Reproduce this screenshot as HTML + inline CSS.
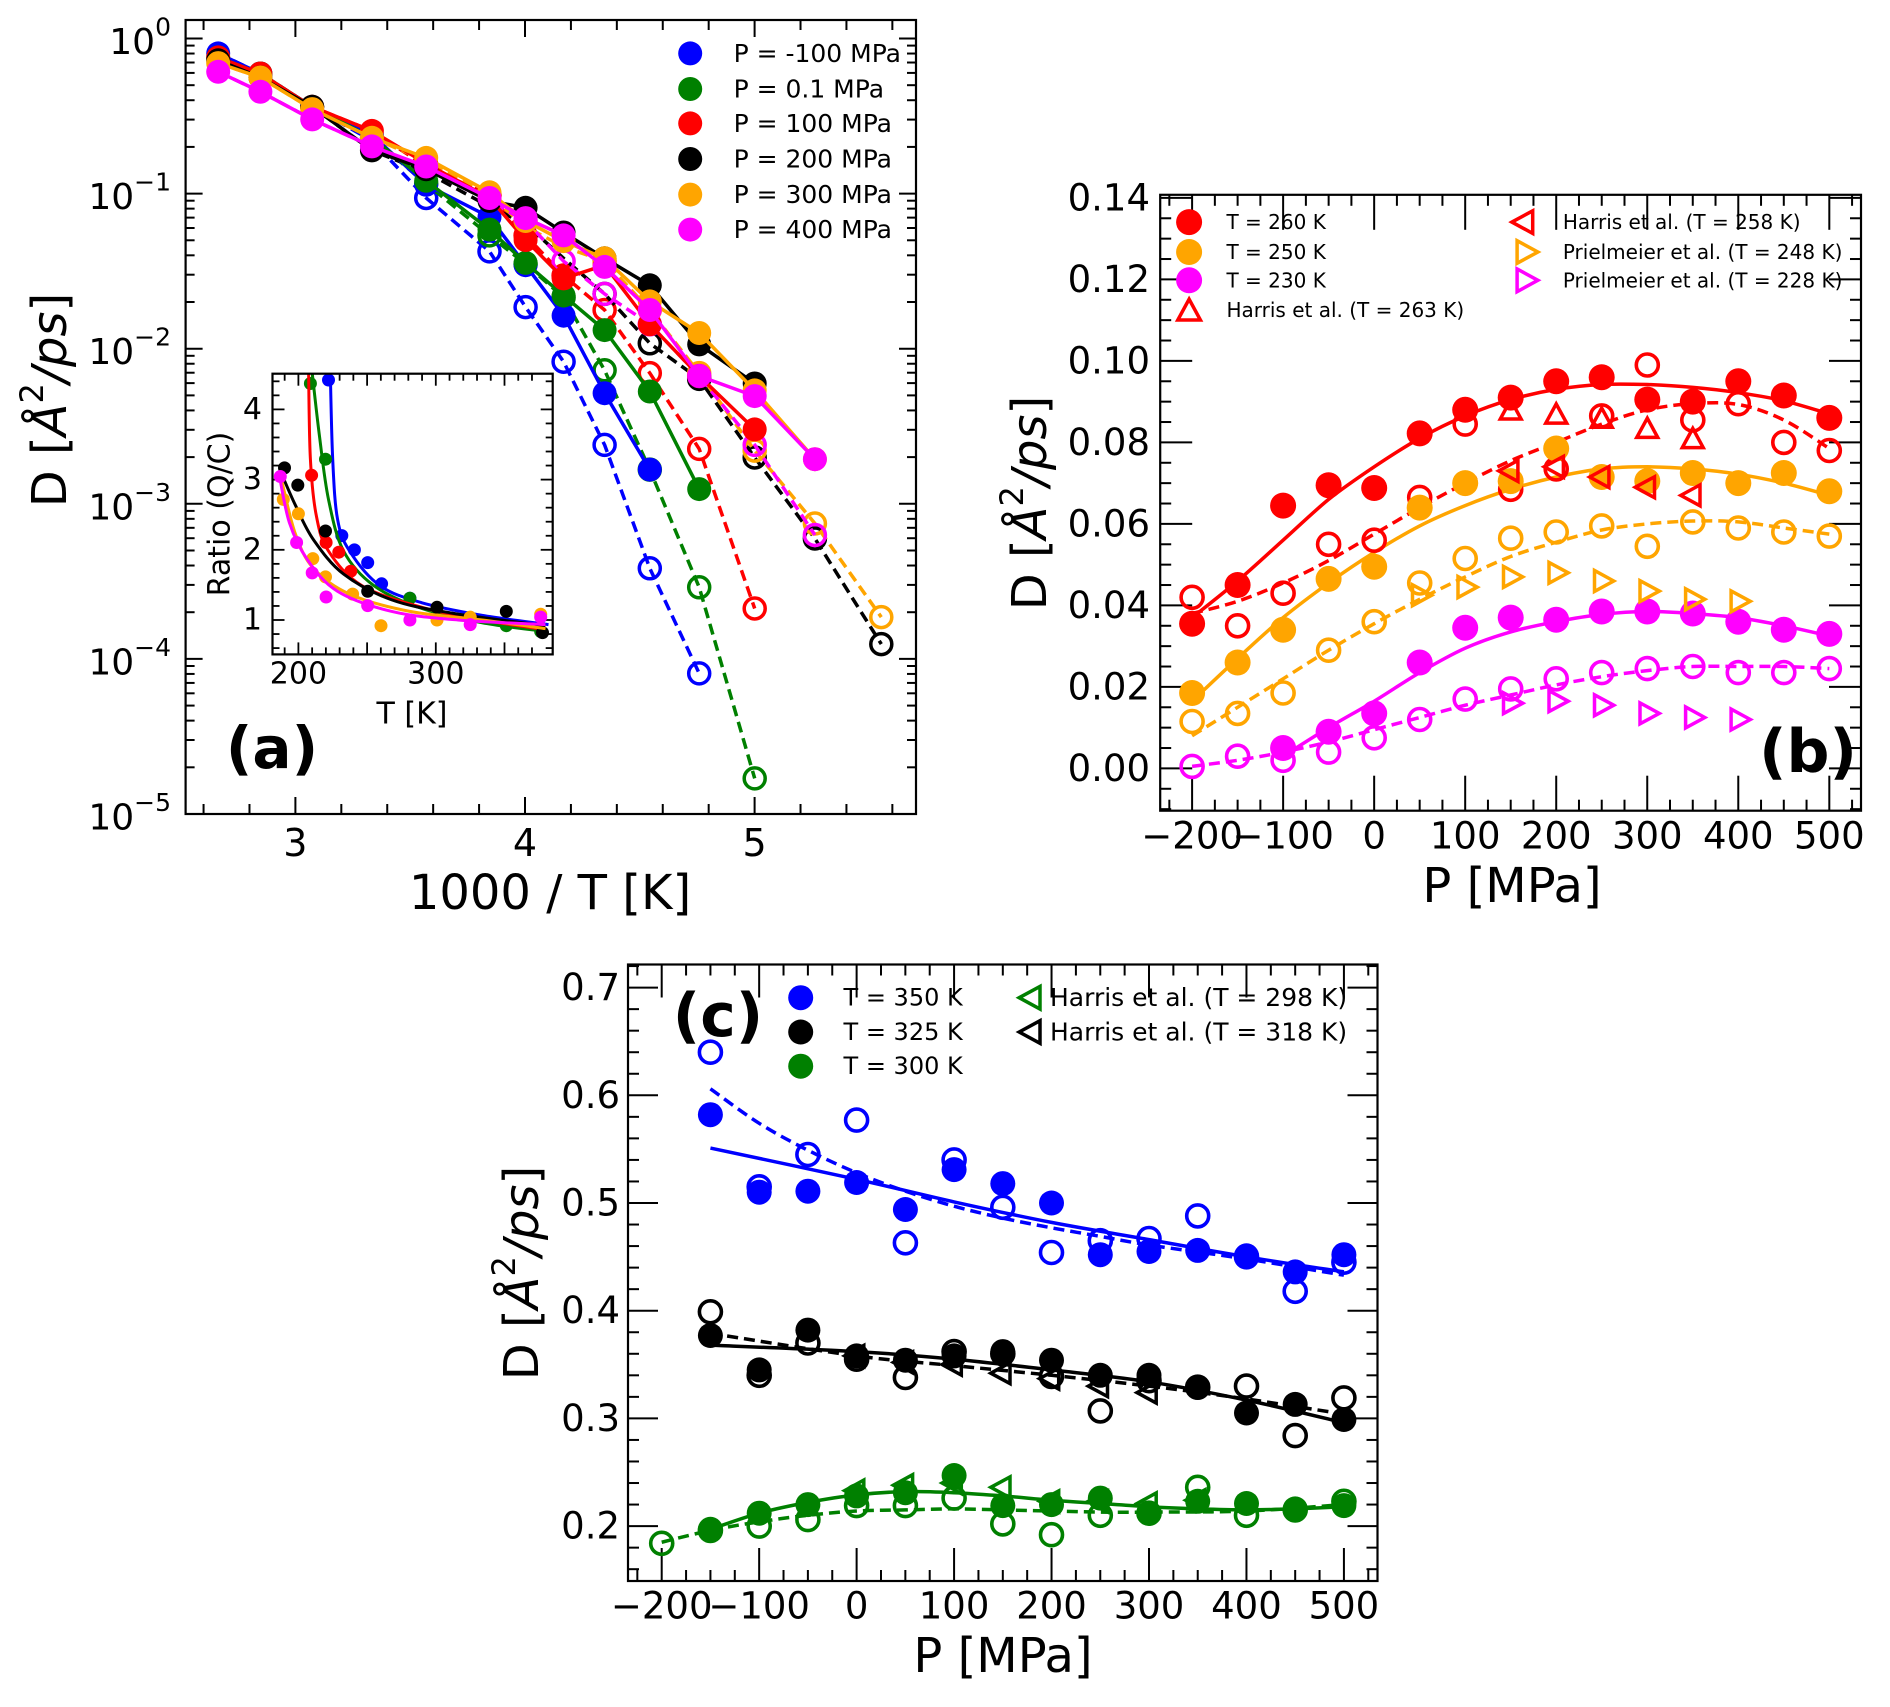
<!DOCTYPE html>
<html><head><meta charset="utf-8">
<style>
html,body{margin:0;padding:0;background:#fff;}
svg{display:block;font-family:"DejaVu Sans","Liberation Sans",sans-serif;}
</style></head>
<body>
<svg id="s" xmlns="http://www.w3.org/2000/svg" width="1890" height="1707" viewBox="0 0 1890 1707"></svg>
<script>
const S=document.getElementById('s');
let out='';
function add(t){out+=t;}
function line(x1,y1,x2,y2,c,w,d){add(`<line x1="${x1}" y1="${y1}" x2="${x2}" y2="${y2}" stroke="${c||'#000'}" stroke-width="${w||2}"${d?` stroke-dasharray="${d}"`:''}/>`);}
function poly(pts,c,w,d){add(`<polyline points="${pts.map(p=>p[0].toFixed(1)+','+p[1].toFixed(1)).join(' ')}" fill="none" stroke="${c}" stroke-width="${w}"${d?` stroke-dasharray="${d}"`:''} stroke-linejoin="round"/>`);}
function path(pts,c,w,d){
  let s=`M${pts[0][0]},${pts[0][1]}`;
  for(let i=0;i<pts.length-1;i++){const p0=pts[Math.max(i-1,0)],p1=pts[i],p2=pts[i+1],p3=pts[Math.min(i+2,pts.length-1)];
    const c1=[p1[0]+(p2[0]-p0[0])/6,p1[1]+(p2[1]-p0[1])/6],c2=[p2[0]-(p3[0]-p1[0])/6,p2[1]-(p3[1]-p1[1])/6];
    s+=` C${c1[0].toFixed(1)},${c1[1].toFixed(1)} ${c2[0].toFixed(1)},${c2[1].toFixed(1)} ${p2[0].toFixed(1)},${p2[1].toFixed(1)}`;}
  add(`<path d="${s}" fill="none" stroke="${c}" stroke-width="${w}"${d?` stroke-dasharray="${d}"`:''}/>`);}
function dot(x,y,r,c){add(`<circle cx="${x.toFixed(1)}" cy="${y.toFixed(1)}" r="${r}" fill="${c}"/>`);}
function ring(x,y,r,c,w){add(`<circle cx="${x.toFixed(1)}" cy="${y.toFixed(1)}" r="${r}" fill="none" stroke="${c}" stroke-width="${w||3.5}"/>`);}
function tri(x,y,r,c,dir){let p;
  if(dir=='u')p=[[x,y-r],[x-r*0.87,y+r*0.6],[x+r*0.87,y+r*0.6]];
  else if(dir=='l')p=[[x-r,y],[x+r*0.6,y-r*0.87],[x+r*0.6,y+r*0.87]];
  else p=[[x+r,y],[x-r*0.6,y-r*0.87],[x-r*0.6,y+r*0.87]];
  add(`<polygon points="${p.map(q=>q[0].toFixed(1)+','+q[1].toFixed(1)).join(' ')}" fill="none" stroke="${c}" stroke-width="3.5"/>`);}
function text(x,y,t,sz,anchor,extra){add(`<text x="${x}" y="${y}" font-size="${sz}" text-anchor="${anchor||'start'}" dominant-baseline="central" ${extra||''}>${t}</text>`);}
function frame(l,t,r,b){add(`<rect x="${l}" y="${t}" width="${r-l}" height="${b-t}" fill="none" stroke="#000" stroke-width="2.2"/>`);}
const dash='11,6';
const LW=3.5;
function ylab(x,y){add(`<text transform="translate(${x},${y}) rotate(-90)" font-size="48" text-anchor="middle" dominant-baseline="central">D [<tspan font-style="italic">Å</tspan><tspan dy="-18" font-size="32">2</tspan><tspan dy="18" font-style="italic">/ps</tspan>]</text>`);}

/* ========== PANEL A ========== */
{
const L=185.6,R=916,T=20,B=814;
const xv=v=>295.4+229.6*(v-3), yl=l=>38.5-155.1*l;
const zx=z=>z/1.659, zy=z=>z/1.742;
for(let v=2.6;v<=5.61;v+=0.2){const x=xv(v);const maj=Math.abs(v-Math.round(v))<0.01;const len=maj?17:10;line(x,B,x,B-len);line(x,T,x,T+len);}
for(let d=-5;d<=0;d++){for(let m=1;m<10;m++){const l=d+Math.log10(m);const y=yl(l);if(y<T||y>B)continue;const len=m==1?17:9;line(L,y,L+len,y);line(R,y,R-len,y);}}
frame(L,T,R,B);
[3,4,5].forEach(v=>text(xv(v),843,v,38,'middle'));
for(let d=0;d>=-5;d--){const y=yl(d);add(`<text x="171" y="${y+4}" font-size="36" text-anchor="end" dominant-baseline="central">10<tspan dy="-16" font-size="25">${d==0?'0':'−'+(-d)}</tspan></text>`);}
text(550,893,'1000 / T [K]',48,'middle');
ylab(50,400);
const S_=[
['#0000ff',[[362,93],[432,128],[518,186],[617,235],[707,322],[812,378],[872,462],[935,550],[1003,685],[1078,818]],
 [[362,93],[432,128],[518,186],[617,245],[707,345],[812,438],[872,535],[935,630],[1003,775],[1078,990],[1160,1173]],[707,812,872,935,1003,1078,1160]],
['#008000',[[362,100],[432,128],[518,186],[617,240],[707,315],[812,400],[872,458],[935,515],[1003,575],[1078,682],[1160,852]],
 [[362,100],[432,128],[518,186],[617,240],[707,320],[812,410],[872,460],[935,518],[1003,645],[1078,818],[1160,1023],[1252,1356]],[707,812,872,935,1003,1078,1160,1252]],
['#ff0000',[[362,100],[432,128],[518,186],[617,228],[707,285],[812,345],[872,418],[935,485],[1003,462],[1078,565],[1160,655],[1252,748]],
 [[362,100],[432,128],[518,186],[617,228],[707,290],[812,340],[872,410],[935,480],[1003,540],[1078,650],[1160,782],[1252,1060]],[812,872,935,1003,1078,1160,1252]],
['#000000',[[362,105],[432,135],[518,186],[617,262],[707,295],[812,350],[872,362],[935,405],[1003,450],[1078,497],[1160,600],[1252,668]],
 [[362,105],[432,135],[518,186],[617,262],[707,300],[812,360],[872,390],[935,450],[1003,512],[1078,598],[1160,660],[1252,797],[1352,938],[1462,1122]],[1003,1078,1160,1252,1352,1462]],
['#ffa500',[[362,110],[432,135],[518,190],[617,240],[707,275],[812,335],[872,385],[935,420],[1003,450],[1078,525],[1160,580],[1252,680],[1352,800]],
 [[362,110],[432,135],[518,190],[617,240],[707,280],[812,340],[872,395],[935,430],[1003,455],[1078,540],[1160,650],[1252,785],[1352,912],[1462,1075]],[1003,1078,1160,1252,1352,1462]],
['#ff00ff',[[362,125],[432,160],[518,208],[617,255],[707,290],[812,345],[872,380],[935,410],[1003,465],[1078,540],[1160,655],[1252,690],[1352,800]],
 [[362,125],[432,160],[518,208],[617,255],[707,295],[812,350],[872,385],[935,455],[1003,512],[1078,565],[1160,655],[1252,775],[1352,932]],[872,935,1003,1078,1160,1252,1352]]
];
S_.forEach(([c,f,o,oi])=>{poly(o.map(p=>[zx(p[0]),zy(p[1])]),c,LW,dash);
  o.forEach(p=>{if(oi.includes(p[0]))ring(zx(p[0]),zy(p[1]),10.5,c,3.5);});});
S_.forEach(([c,f])=>{poly(f.map(p=>[zx(p[0]),zy(p[1])]),c,LW);f.forEach(p=>dot(zx(p[0]),zy(p[1]),12,c));});
const lg=[['#0000ff','P = -100 MPa'],['#008000','P = 0.1 MPa'],['#ff0000','P = 100 MPa'],['#000000','P = 200 MPa'],['#ffa500','P = 300 MPa'],['#ff00ff','P = 400 MPa']];
lg.forEach((g,i)=>{const y=zy([93,155,215,277,339,400][i]);dot(zx(1145),y,12,g[0]);text(zx(1217),y,g[1],25,'start');});
const iL=272.5,iR=552.7,iT=373.7,iB=654.4;
add(`<rect x="${iL}" y="${iT}" width="${iR-iL}" height="${iB-iT}" fill="#fff" stroke="none"/>`);
const ix=t=>298.4+1.374*(t-200), iy=v=>620-70.2*(v-1);
for(let t=190;t<=370;t+=10){const x=ix(t);const len=(t%50==0)?12:7;line(x,iB,x,iB-len,'#000',1.8);line(x,iT,x,iT+len,'#000',1.8);}
for(let v=0.6;v<=4.6;v+=0.2){const y=iy(v);if(y<iT||y>iB)continue;const len=Math.abs(v-Math.round(v))<0.01?12:7;line(iL,y,iL+len,y,'#000',1.8);line(iR,y,iR-len,y,'#000',1.8);}
[200,300].forEach(t=>text(ix(t),674,t,30,'middle'));
[1,2,3,4].forEach(v=>text(262,iy(v),v,30,'end'));
text(412,714,'T [K]',30,'middle');
add(`<text transform="translate(220,514) rotate(-90)" font-size="30" text-anchor="middle" dominant-baseline="central">Ratio (Q/C)</text>`);
const I=[
['#0000ff',[[548,650],[552,800],[560,905],[580,960],[630,1020],[700,1050],[800,1072],[910,1088]],[[545,662],[567,933],[588,958],[610,980],[633,1017],[680,1042]]],
['#008000',[[518,650],[530,760],[545,870],[570,960],[620,1020],[700,1060],[800,1085],[905,1100]],[[515,668],[540,800],[680,1042],[840,1090],[897,1100]]],
['#ff0000',[[512,650],[515,800],[525,900],[545,960],[600,1020],[700,1058],[800,1080],[905,1097]],[[517,828],[541,945],[562,962],[582,995]]],
['#000000',[[465,820],[490,880],[520,940],[570,1000],[650,1045],[750,1068],[905,1090]],[[472,815],[494,845],[540,925],[610,1030],[725,1058],[840,1065],[900,1102]]],
['#ffa500',[[468,840],[490,930],[520,990],[580,1035],[680,1065],[800,1080],[905,1095]],[[470,870],[495,895],[519,973],[540,1005],[585,1035],[632,1090],[725,1080],[780,1075],[897,1070]]],
['#ff00ff',[[462,820],[480,910],[510,975],[560,1030],[650,1065],[760,1080],[905,1088]],[[465,830],[492,945],[518,998],[541,1040],[610,1055],[680,1080],[780,1088],[897,1075]]]
];
add(`<svg x="${iL}" y="${iT}" width="${iR-iL}" height="${iB-iT}" viewBox="${iL} ${iT} ${iR-iL} ${iB-iT}" overflow="hidden">`);
I.forEach(([c,cv,d])=>{d.forEach(p=>dot(zx(p[0]),zy(p[1]),6.5,c));path(cv.map(p=>[zx(p[0]),zy(p[1])]),c,3);});
add('</svg>');
frame(iL,iT,iR,iB);
text(272,748,'(a)',58,'middle','font-weight="bold"');
}

/* ========== PANEL B ========== */
{
const L=1160.2,R=1861,T=194.8,B=810.7;
const xp=p=>1192.1+0.9103*(p+200), yv=v=>768.4-4075*v;
for(let p=-225;p<=525;p+=25){const x=xp(p);if(x<L||x>R)continue;const len=(p%100==0)?35:11;line(x,B,x,B-len);line(x,T,x,T+len);}
for(let i=-2;i<=28;i++){const v=i*0.005;const y=yv(v);if(y<T-1||y>B)continue;const len=(i%4==0)?32:11;line(L,y,L+len,y);line(R,y,R-len,y);}
frame(L,T,R,B);
[-200,-100,0,100,200,300,400,500].forEach(p=>text(xp(p),836,p<0?'−'+(-p):p,37,'middle'));
[0,0.02,0.04,0.06,0.08,0.10,0.12,0.14].forEach(v=>text(1150,yv(v),v.toFixed(2),37,'end'));
text(1512,886,'P [MPa]',48,'middle');
ylab(1030,503);
const P=[-200,-150,-100,-50,0,50,100,150,200,250,300,350,400,450,500];
const mk=a=>a.map((v,i)=>[P[i],v]);
const series=[
['#ff0000',mk([0.0355,0.045,0.0645,0.0695,0.0688,0.0822,0.088,0.091,0.095,0.096,0.0905,0.090,0.095,0.0915,0.086]),
 mk([0.037,0.046,0.056,0.066,0.074,0.081,0.0865,0.0905,0.093,0.0942,0.0942,0.0935,0.0922,0.0902,0.087]),
 mk([0.042,0.035,0.043,0.055,0.056,0.0665,0.0845,0.0685,0.0735,0.0865,0.099,0.0855,0.0895,0.080,0.078]),
 mk([0.038,0.041,0.0455,0.051,0.0575,0.064,0.070,0.0755,0.080,0.0845,0.088,0.0895,0.0893,0.0855,0.0785])],
['#ffa500',mk([0.0185,0.026,0.034,0.0465,0.0495,0.064,0.070,0.0705,0.0785,0.0715,0.0705,0.0725,0.070,0.0725,0.068]),
 mk([0.0165,0.027,0.037,0.0455,0.053,0.0595,0.0645,0.0685,0.0715,0.0735,0.074,0.0735,0.0722,0.070,0.067]),
 mk([0.0115,0.0135,0.0185,0.029,0.036,0.0455,0.0515,0.0565,0.058,0.0595,0.0545,0.0605,0.059,0.058,0.057]),
 mk([0.008,0.015,0.022,0.029,0.0355,0.0415,0.047,0.052,0.0555,0.0585,0.060,0.0607,0.0605,0.059,0.0575])],
['#ff00ff',mk([null,null,0.005,0.009,0.0135,0.026,0.0345,0.037,0.0365,0.0385,0.0385,0.038,0.036,0.034,0.033]).filter(p=>p[1]!==null),
 mk([null,null,0.003,0.01,0.0165,0.0235,0.0295,0.0335,0.036,0.0378,0.0385,0.038,0.037,0.035,0.0325]).filter(p=>p[1]!==null),
 mk([0.0005,0.003,0.002,0.004,0.0075,0.012,0.017,0.0195,0.022,0.0235,0.0245,0.025,0.0235,0.0235,0.0245]),
 mk([0.0005,0.002,0.004,0.0065,0.0095,0.0125,0.0155,0.018,0.0205,0.0225,0.024,0.025,0.025,0.025,0.0245])]
];
const tr=a=>a.map(p=>[xp(p[0]),yv(p[1])]);
series.forEach(([c,f,fc,o,oc])=>{path(tr(oc),c,LW,dash);path(tr(fc),c,LW);});
series.forEach(([c,f,fc,o,oc])=>{o.forEach(p=>ring(xp(p[0]),yv(p[1]),11,c,3.6));f.forEach(p=>dot(xp(p[0]),yv(p[1]),13,c));});
[[150,0.0875],[200,0.0865],[250,0.0855],[300,0.083],[350,0.0805]].forEach(p=>tri(xp(p[0]),yv(p[1]),12,'#ff0000','u'));
[[150,0.073],[200,0.074],[250,0.0715],[300,0.069],[350,0.067]].forEach(p=>tri(xp(p[0]),yv(p[1]),12,'#ff0000','l'));
[[50,0.0425],[100,0.0445],[150,0.047],[200,0.048],[250,0.046],[300,0.0435],[350,0.0415],[400,0.041]].forEach(p=>tri(xp(p[0]),yv(p[1]),12,'#ffa500','r'));
[[150,0.016],[200,0.0165],[250,0.0155],[300,0.0135],[350,0.0125],[400,0.012]].forEach(p=>tri(xp(p[0]),yv(p[1]),12,'#ff00ff','r'));
const bx=z=>945+z/1.659, by=z=>150+z/2.01;
[['#ff0000','T = 260 K'],['#ffa500','T = 250 K'],['#ff00ff','T = 230 K']].forEach((g,i)=>{const y=by([145,205,262][i]);dot(bx(405),y,13,g[0]);text(bx(467),y,g[1],20);});
tri(bx(405),by(322)+2,13,'#ff0000','u');text(bx(467),by(322),'Harris et al. (T = 263 K)',20);
tri(bx(962),by(145),13,'#ff0000','l');text(bx(1025),by(145),'Harris et al. (T = 258 K)',20);
tri(bx(962),by(205),13,'#ffa500','r');text(bx(1025),by(205),'Prielmeier et al. (T = 248 K)',20);
tri(bx(962),by(262),13,'#ff00ff','r');text(bx(1025),by(262),'Prielmeier et al. (T = 228 K)',20);
text(1808,752,'(b)',60,'middle','font-weight="bold"');
}

/* ========== PANEL C ========== */
{
const L=628,R=1377.5,T=964.5,B=1581;
const xp=p=>661.7+0.9746*(p+200), yv=v=>1526.1-1077*(v-0.2);
for(let p=-225;p<=525;p+=25){const x=xp(p);if(x<L||x>R)continue;const len=(p%100==0)?33:11;line(x,B,x,B-len);line(x,T,x,T+len);}
for(let i=7;i<=36;i++){const v=i*0.02;const y=yv(v);if(y<T||y>B)continue;const len=(i%5==0)?30:11;line(L,y,L+len,y);line(R,y,R-len,y);}
frame(L,T,R,B);
[-200,-100,0,100,200,300,400,500].forEach(p=>text(xp(p),1606,p<0?'−'+(-p):p,37,'middle'));
[0.2,0.3,0.4,0.5,0.6,0.7].forEach(v=>text(620,yv(v),v.toFixed(1),37,'end'));
text(1003,1656,'P [MPa]',48,'middle');
ylab(522,1273);
const P=[-150,-100,-50,0,50,100,150,200,250,300,350,400,450,500];
const mk=a=>a.map((v,i)=>[P[i],v]);
const tr=a=>a.map(p=>[xp(p[0]),yv(p[1])]);
const ser=[
['#0000ff',mk([0.582,0.51,0.511,0.519,0.494,0.531,0.518,0.50,0.452,0.455,0.456,0.451,0.436,0.452]),
 [[-150,0.551],[0,0.522],[100,0.501],[200,0.482],[300,0.466],[400,0.45],[500,0.436]],
 mk([0.64,0.515,0.545,0.577,0.463,0.54,0.496,0.454,0.465,0.467,0.488,0.45,0.418,0.445]),
 [[-150,0.606],[-100,0.574],[-50,0.549],[0,0.528],[50,0.511],[100,0.497],[150,0.486],[200,0.477],[250,0.469],[300,0.461],[400,0.448],[500,0.433]]],
['#000000',mk([0.377,0.345,0.382,0.358,0.354,0.358,0.362,0.354,0.340,0.340,0.329,0.305,0.313,0.299]),
 [[-150,0.368],[0,0.362],[100,0.355],[200,0.345],[300,0.334],[400,0.317],[500,0.296]],
 mk([0.399,0.340,0.370,0.355,0.338,0.362,0.360,0.339,0.307,0.335,0.329,0.330,0.284,0.319]),
 [[-150,0.379],[0,0.358],[100,0.349],[200,0.340],[300,0.330],[400,0.318],[500,0.304]]],
['#008000',mk([0.197,0.212,0.22,0.228,0.231,0.247,0.219,0.22,0.226,0.212,0.223,0.221,0.216,0.219]),
 [[-150,0.197],[-100,0.212],[-50,0.222],[0,0.229],[50,0.232],[100,0.231],[150,0.228],[200,0.224],[250,0.221],[300,0.218],[350,0.216],[400,0.215],[450,0.216],[500,0.218]],
 [[-200,0.184]].concat(mk([0.196,0.2,0.206,0.219,0.219,0.226,0.202,0.192,0.21,0.212,0.236,0.21,0.215,0.223])),
 [[-200,0.185],[-150,0.196],[-100,0.204],[-50,0.21],[0,0.214],[50,0.215],[100,0.216],[150,0.215],[200,0.214],[250,0.213],[300,0.213],[400,0.214],[500,0.22]]]
];
ser.forEach(([c,f,fc,o,oc])=>{path(tr(oc),c,LW,dash);path(tr(fc),c,LW);});
[[0,0.358],[50,0.352],[100,0.350],[150,0.342],[200,0.337],[250,0.330],[300,0.324]].forEach(p=>tri(xp(p[0]),yv(p[1]),12,'#000','l'));
[[0,0.233],[50,0.238],[100,0.24],[150,0.236],[200,0.223],[250,0.223],[300,0.221],[350,0.224]].forEach(p=>tri(xp(p[0]),yv(p[1]),12,'#008000','l'));
ser.forEach(([c,f,fc,o,oc])=>{o.forEach(p=>ring(xp(p[0]),yv(p[1]),11,c,3.6));f.forEach(p=>dot(xp(p[0]),yv(p[1]),12.5,c));});
const cx=z=>470+z/1.633, cy=z=>940+z/2.044;
[['#0000ff','T = 350 K'],['#000000','T = 325 K'],['#008000','T = 300 K']].forEach((g,i)=>{const y=cy([118,188,258][i]);dot(cx(540),y,12.5,g[0]);text(cx(610),y,g[1],24);});
tri(cx(918),cy(118),13,'#008000','l');text(1050,cy(118),'Harris et al. (T = 298 K)',25);
tri(cx(918),cy(188),13,'#000','l');text(1050,cy(188),'Harris et al. (T = 318 K)',25);
text(718,1016,'(c)',60,'middle','font-weight="bold"');
}
S.innerHTML=out;
</script>
</body></html>
